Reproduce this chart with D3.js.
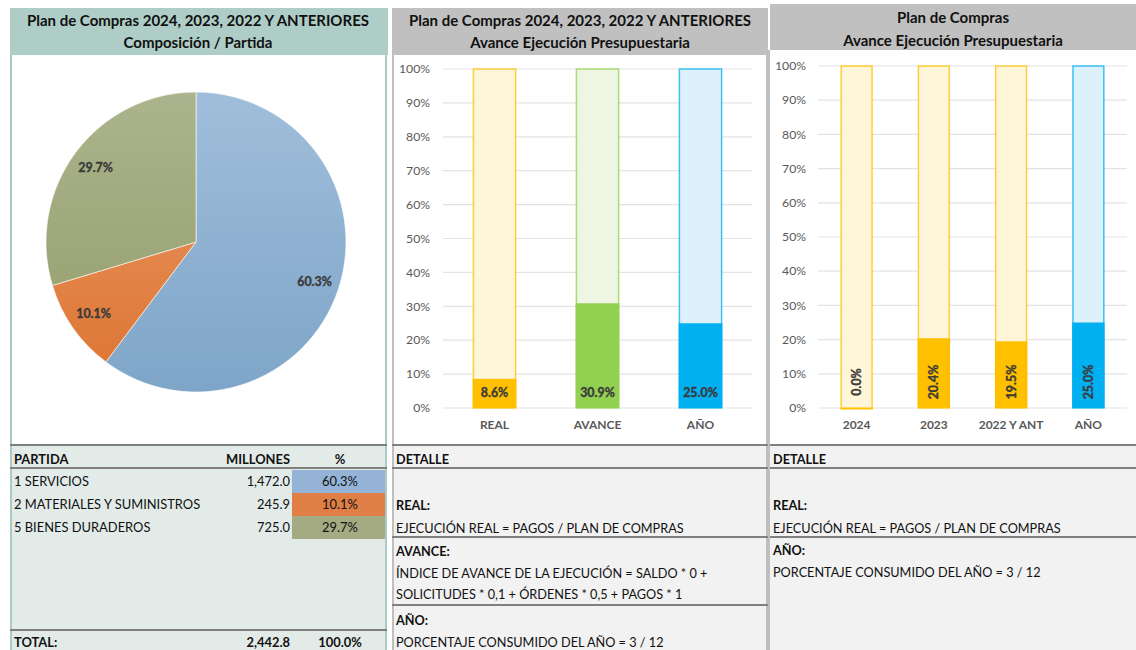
<!DOCTYPE html>
<html><head><meta charset="utf-8">
<script src="https://cdn.jsdelivr.net/npm/d3@7"></script>
<style>
body{margin:0;background:#fff;}
svg{display:block;font-family:Lato,"Open Sans",sans-serif;}
</style></head>
<body><svg id="c" width="1136" height="650"></svg>
<script>
// ---------- DATA ----------
const pieCategories = ["1 SERVICIOS", "2 MATERIALES Y SUMINISTROS", "5 BIENES DURADEROS"];
const pieValues = [1472.0, 245.9, 725.0];
const pieTotal = 2442.8;
const bar2Categories = ["REAL", "AVANCE", "AÑO"];
const bar2Values = [8.6, 30.9, 25.0];
const bar3Categories = ["2024", "2023", "2022 Y ANT", "AÑO"];
const bar3Values = [0.0, 20.4, 19.5, 25.0];
const yTicks = [0, 10, 20, 30, 40, 50, 60, 70, 80, 90, 100];

const svg = d3.select("#c");
const txt = "#3a3a3a";

// ---------- PANEL BACKGROUNDS ----------
svg.append("rect").attr("x",10).attr("y",8).attr("width",378).attr("height",47).attr("fill","#aecdc6");
svg.append("rect").attr("x",10).attr("y",55).attr("width",377).attr("height",390).attr("fill","#fff");
svg.append("rect").attr("x",10).attr("y",445).attr("width",377).attr("height",205).attr("fill","#e3ebe9");
svg.append("line").attr("x1",11).attr("x2",11).attr("y1",55).attr("y2",650).attr("stroke","#a9cbc4").attr("stroke-width",2);
svg.append("line").attr("x1",386).attr("x2",386).attr("y1",55).attr("y2",650).attr("stroke","#a9cbc4").attr("stroke-width",2);
svg.append("rect").attr("x",392).attr("y",8).attr("width",376).attr("height",47).attr("fill","#c0c0c0");
svg.append("rect").attr("x",392).attr("y",445).attr("width",375).attr("height",205).attr("fill","#f2f2f2");
svg.append("line").attr("x1",393).attr("x2",393).attr("y1",55).attr("y2",650).attr("stroke","#bfbfbf").attr("stroke-width",2);
svg.append("rect").attr("x",770).attr("y",4).attr("width",366).attr("height",46).attr("fill","#c0c0c0");
svg.append("rect").attr("x",770).attr("y",445).attr("width",366).attr("height",205).attr("fill","#f2f2f2");
svg.append("rect").attr("x",766).attr("y",50).attr("width",4).attr("height",600).attr("fill","#bfbfbf");

function header(cx, y1, y2, l1, l2){
  svg.append("text").attr("x",cx).attr("y",y1).attr("text-anchor","middle").attr("font-size",15).attr("font-weight","bold").attr("fill","#111").text(l1);
  svg.append("text").attr("x",cx).attr("y",y2).attr("text-anchor","middle").attr("font-size",15).attr("font-weight","bold").attr("fill","#111").text(l2);
}
header(198, 26, 48, "Plan de Compras 2024, 2023, 2022 Y ANTERIORES", "Composición / Partida");
header(580, 26, 48, "Plan de Compras 2024, 2023, 2022 Y ANTERIORES", "Avance Ejecución Presupuestaria");
header(953, 23, 46, "Plan de Compras", "Avance Ejecución Presupuestaria");

// ---------- PIE ----------
const pieColors = [["#a0bedb","#7ea5c8"],["#eb9a68","#dc7431"],["#abb48c","#929c69"]];
const tableColors = ["#95b3d7","#e07f45","#a4aa82"];
const defs = svg.append("defs");
pieColors.forEach((c,i)=>{
  const g = defs.append("linearGradient").attr("id","pg"+i).attr("gradientUnits","userSpaceOnUse")
    .attr("x1",0).attr("y1",-150).attr("x2",0).attr("y2",150);
  g.append("stop").attr("offset","0").attr("stop-color",c[0]);
  g.append("stop").attr("offset","1").attr("stop-color",c[1]);
});
const pieG = svg.append("g").attr("transform","translate(196,242)");
const pie = d3.pie().sort(null).value(d=>d)(pieValues);
const arc = d3.arc().innerRadius(0).outerRadius(150);
const labelArc = d3.arc().innerRadius(125).outerRadius(125);
pieG.selectAll("path").data(pie).join("path").attr("d",arc)
  .attr("fill",(d,i)=>"url(#pg"+i+")").attr("stroke","#fff").attr("stroke-width",0.6);
pieG.selectAll("text").data(pie).join("text")
  .attr("transform",d=>"translate("+labelArc.centroid(d)+")")
  .attr("text-anchor","middle").attr("dy","0.35em")
  .attr("font-size",12.4).attr("font-weight","bold").attr("fill",txt)
  .attr("stroke",txt).attr("stroke-width",0.35)
  .text(d=>(d.value/pieTotal*100).toFixed(1)+"%");

// ---------- TABLE (panel 1) ----------
function hline(x1,x2,y){svg.append("line").attr("x1",x1).attr("x2",x2).attr("y1",y).attr("y2",y).attr("stroke","#7f7f7f").attr("stroke-width",2);}
hline(10,387,445); hline(10,387,468); hline(10,387,630);
const fs = 12.9;
svg.append("text").attr("x",14).attr("y",464).attr("font-size",fs).attr("font-weight","bold").attr("fill","#111").text("PARTIDA");
svg.append("text").attr("x",290).attr("y",464).attr("text-anchor","end").attr("font-size",fs).attr("font-weight","bold").attr("fill","#111").text("MILLONES");
svg.append("text").attr("x",340).attr("y",464).attr("text-anchor","middle").attr("font-size",fs).attr("font-weight","bold").attr("fill","#111").text("%");
const fmt = d3.format(",.1f");
pieCategories.forEach((c,i)=>{
  const y = 470 + i*23;
  svg.append("rect").attr("x",292).attr("y",y).attr("width",93).attr("height",23).attr("fill",tableColors[i]);
  svg.append("text").attr("x",14).attr("y",y+16).attr("font-size",fs).attr("fill","#111").text(c);
  svg.append("text").attr("x",290).attr("y",y+16).attr("text-anchor","end").attr("font-size",fs).attr("fill","#111").text(fmt(pieValues[i]));
  svg.append("text").attr("x",340).attr("y",y+16).attr("text-anchor","middle").attr("font-size",fs).attr("fill","#111").text((pieValues[i]/pieTotal*100).toFixed(1)+"%");
});
svg.append("text").attr("x",14).attr("y",647).attr("font-size",fs).attr("font-weight","bold").attr("fill","#111").text("TOTAL:");
svg.append("text").attr("x",290).attr("y",647).attr("text-anchor","end").attr("font-size",fs).attr("font-weight","bold").attr("fill","#111").text(fmt(pieTotal));
svg.append("text").attr("x",340).attr("y",647).attr("text-anchor","middle").attr("font-size",fs).attr("font-weight","bold").attr("fill","#111").text("100.0%");

// ---------- BAR CHARTS ----------
function barChart(cats, vals, x0, x1, yTop, axisX, colors, lights, barFrac, rotated){
  const y = d3.scaleLinear().domain([0,100]).range([408, yTop]);
  const x = d3.scaleBand().domain(cats).range([x0,x1]).padding(0);
  const g = svg.append("g");
  g.selectAll("line.grid").data(yTicks).join("line").attr("class","grid")
    .attr("x1",x0).attr("x2",x1).attr("y1",d=>y(d)).attr("y2",d=>y(d))
    .attr("stroke","#e3e3e3").attr("stroke-width",1.2);
  g.selectAll("text.yt").data(yTicks).join("text").attr("class","yt")
    .attr("x",axisX).attr("y",d=>y(d)).attr("dy","0.35em").attr("text-anchor","end")
    .attr("font-size",12.2).attr("fill","#595959").text(d=>d+"%");
  const bw = x.bandwidth()*barFrac;
  cats.forEach((c,i)=>{
    const cx = x(c)+x.bandwidth()/2;
    g.append("rect").attr("x",cx-bw/2).attr("y",y(100)).attr("width",bw).attr("height",y(0)-y(100))
      .attr("fill",lights[i]).attr("stroke",colors[i]).attr("stroke-opacity",0.75).attr("stroke-width",1.5);
    g.append("rect").attr("x",cx-bw/2-0.75).attr("y",y(vals[i])).attr("width",bw+1.5).attr("height",Math.max(y(0)-y(vals[i]),1.5))
      .attr("fill",colors[i]);
    const lab = vals[i].toFixed(1)+"%";
    let lt;
    if(rotated){
      lt = g.append("text").attr("transform","translate("+(cx+4.5)+",382) rotate(-90)");
    } else {
      lt = g.append("text").attr("x",cx).attr("y",397);
    }
    lt.attr("text-anchor","middle").attr("font-size",12.4).attr("font-weight","bold")
      .attr("fill",txt).attr("stroke",txt).attr("stroke-width",0.35).text(lab);
    g.append("text").attr("x",cx).attr("y",429).attr("text-anchor","middle")
      .attr("font-size",12).attr("font-weight","bold").attr("fill","#595959").text(c);
  });
}
barChart(bar2Categories, bar2Values, 443, 752, 69, 430,
  ["#ffc000","#92d050","#00b0f0"], ["#fff5d9","#eef5e3","#dcf1fb"], 0.41, false);
barChart(bar3Categories, bar3Values, 818, 1127, 66, 806,
  ["#ffc000","#ffc000","#ffc000","#00b0f0"], ["#fff5d9","#fff5d9","#fff5d9","#dcf1fb"], 0.40, true);

// ---------- DETAIL (panel 2) ----------
hline(392,768,445); hline(392,768,468); hline(392,768,537); hline(392,768,605);
function t(x,y,s,b){svg.append("text").attr("x",x).attr("y",y).attr("font-size",12.7).attr("font-weight",b?"bold":"normal").attr("fill","#111").text(s);}
t(396,464,"DETALLE",true);
t(396,510,"REAL:",true);
t(396,533,"EJECUCIÓN REAL = PAGOS / PLAN DE COMPRAS");
t(396,556,"AVANCE:",true);
t(396,578,"ÍNDICE DE AVANCE DE LA EJECUCIÓN = SALDO * 0 +");
t(396,599,"SOLICITUDES * 0,1 + ÓRDENES * 0,5 + PAGOS * 1");
t(396,625,"AÑO:",true);
t(396,647,"PORCENTAJE CONSUMIDO DEL AÑO = 3 / 12");
// ---------- DETAIL (panel 3) ----------
hline(770,1136,445); hline(770,1136,468); hline(770,1136,537);
t(773,464,"DETALLE",true);
t(773,510,"REAL:",true);
t(773,533,"EJECUCIÓN REAL = PAGOS / PLAN DE COMPRAS");
t(773,555,"AÑO:",true);
t(773,577,"PORCENTAJE CONSUMIDO DEL AÑO = 3 / 12");
</script></body></html>
